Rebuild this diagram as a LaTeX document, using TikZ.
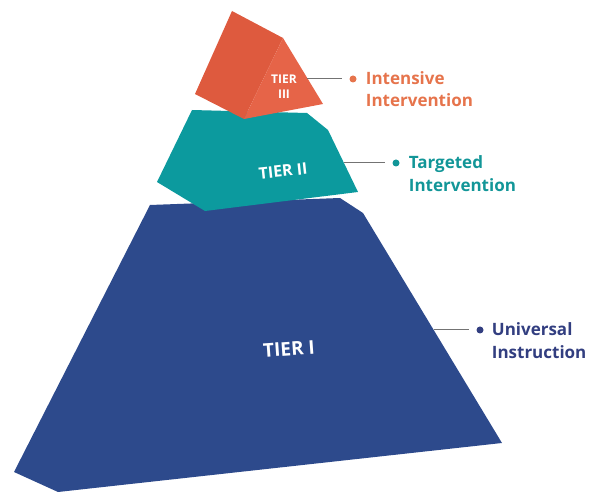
\documentclass[tikz,border=0pt]{standalone}
\usepackage{fontspec}
\setmainfont{Open Sans}
\usetikzlibrary{positioning}

\definecolor{tierone}{RGB}{45,74,140}
\definecolor{tiertwo}{RGB}{12,154,158}
\definecolor{tierthree}{RGB}{222,90,62}
\definecolor{tierthreelight}{RGB}{230,100,72}
\definecolor{captionone}{RGB}{50,62,128}
\definecolor{captiontwo}{RGB}{18,150,152}
\definecolor{captionthree}{RGB}{230,116,76}

\tikzset{
  tiertext/.style={text=white, inner sep=0pt, align=center},
  leader/.style={draw=black!55, line width=1pt, shorten >=7pt},
  bullet/.style={circle, inner sep=0pt, minimum size=7pt},
  caption/.style={font=\bfseries\fontsize{17}{21}\selectfont,
    inner sep=0pt, anchor=base west},
}

\begin{document}
\begin{tikzpicture}[x=1pt, y=-1pt]

  \useasboundingbox (0,0) rectangle (590,494);

  % Blocks, bottom one first
  \fill[tierone] (150,205) -- (340,198) -- (363,213) -- (502,443) %
    -- (58,492) -- (14,472) -- cycle; %
  \fill[tiertwo] (192,110) -- (307,113) -- (328,130) -- (358,192) %
    -- (205,211) -- (157,182) -- cycle; %
  \fill[tierthree] (232,11) -- (283,38) -- (244,119) -- (195,94) -- cycle; %
  \fill[tierthreelight] (283,38) -- (323,104) -- (244,119) -- cycle; %

  % Block names
  \node[tiertext, font=\bfseries\fontsize{19}{22}\selectfont, rotate=4] %
    (t1) at (289,349) {TIER I}; %
  \node[tiertext, font=\bfseries\fontsize{16}{19}\selectfont, rotate=6] %
    (t2) at (283,171) {TIER II}; %
  \node[tiertext, font=\bfseries\fontsize{12}{15}\selectfont] %
    (t3) at (284,87) {TIER\\III}; %

  % Edge points where the leaders start
  \coordinate (e1) at (434,330); %
  \coordinate (e2) at (344,163); %
  \coordinate (e3) at (307,79); %

  % Bullets
  \node[bullet, fill=captionone]   (b1) at (480,330) {}; %
  \node[bullet, fill=captiontwo]   (b2) at (396,163) {}; %
  \node[bullet, fill=captionthree] (b3) at (353,79)  {}; %

  % Leaders
  \draw[leader] (e1) -- (b1); %
  \draw[leader] (e2) -- (b2); %
  \draw[leader] (e3) -- (b3); %

  % Captions
  \node[caption, text=captionone] (c1) %
    at ([xshift=8pt, yshift=-6pt]b1.east) {Universal}; %
  \node[caption, text=captionone] (c1b) %
    at ([yshift=-23pt]c1.base west) {Instruction}; %

  \node[caption, text=captiontwo] (c2) %
    at ([xshift=9pt, yshift=-6pt]b2.east) {Targeted}; %
  \node[caption, text=captiontwo] (c2b) %
    at ([yshift=-23pt]c2.base west) {Intervention}; %

  \node[caption, text=captionthree] (c3) %
    at ([xshift=9pt, yshift=-6pt]b3.east) {Intensive}; %
  \node[caption, text=captionthree] (c3b) %
    at ([yshift=-22pt]c3.base west) {Intervention}; %

\end{tikzpicture}
\end{document}
